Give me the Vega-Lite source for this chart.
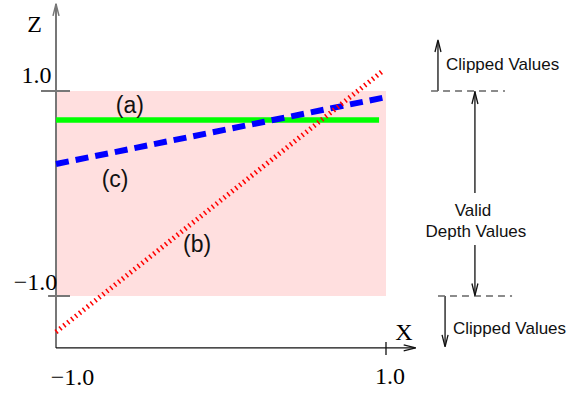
{
  "$schema": "https://vega.github.io/schema/vega-lite/v6.json",
  "width": 570,
  "height": 394,
  "padding": 0,
  "autosize": "none",
  "background": "white",
  "config": {"view": {"stroke": null}},
  "encoding": {
    "x": {"field": "x", "type": "quantitative", "axis": null, "scale": {"domain": [-1.3394, 2.1152], "nice": false, "zero": false}},
    "y": {"field": "z", "type": "quantitative", "axis": null, "scale": {"domain": [-1.9561, 1.8878], "nice": false, "zero": false}}
  },
  "layer": [
    {
      "data": {"values": [{"x": -1, "x2": 1, "z": -1, "z2": 1}]},
      "mark": {"type": "rect", "color": "#ffdfdf"},
      "encoding": {"x2": {"field": "x2"}, "y2": {"field": "z2"}}
    },
    {
      "data": {"values": [
        {"x": -1, "x2": -1, "z": -1.507, "z2": 1.85},
        {"x": -1.091, "x2": -0.915, "z": 1, "z2": 1},
        {"x": -1.048, "x2": -0.915, "z": -1, "z2": -1}
      ]},
      "mark": {"type": "rule", "color": "#777777", "strokeWidth": 2},
      "encoding": {"x2": {"field": "x2"}, "y2": {"field": "z2"}}
    },
    {
      "data": {"values": [
        {"x": -1, "x2": 1.18, "z": -1.507, "z2": -1.507},
        {"x": 1, "x2": 1, "z": -1.449, "z2": -1.576},
        {"x": 1.315, "x2": 1.315, "z": 1, "z2": 1.49},
        {"x": 1.539, "x2": 1.539, "z": 1.0, "z2": 0.005},
        {"x": 1.539, "x2": 1.539, "z": -0.502, "z2": -1},
        {"x": 1.358, "x2": 1.358, "z": -1, "z2": -1.49}
      ]},
      "mark": {"type": "rule", "color": "#111111", "strokeWidth": 1.3},
      "encoding": {"x2": {"field": "x2"}, "y2": {"field": "z2"}}
    },
    {
      "data": {"values": [
        {"x": 1.273, "x2": 1.721, "z": 1, "z2": 1},
        {"x": 1.315, "x2": 1.764, "z": -1, "z2": -1}
      ]},
      "mark": {"type": "rule", "color": "#666666", "strokeWidth": 1.3, "strokeDash": [7, 5]},
      "encoding": {"x2": {"field": "x2"}, "y2": {"field": "z2"}}
    },
    {
      "data": {"values": [{"x": -1, "z": 1.85, "dir": "up"}]},
      "mark": {"type": "point", "filled": false, "color": "#777777", "strokeWidth": 1.5, "opacity": 1, "size": 36},
      "encoding": {"shape": {"field": "dir", "type": "nominal", "legend": null, "scale": {"domain": ["up", "down", "right"], "range": ["M-1,4L0,0L1,4", "M-1,-4L0,0L1,-4", "M-4,-1L0,0L-4,1"]}}}
    },
    {
      "data": {"values": [
        {"x": 1.18, "z": -1.507, "dir": "right"},
        {"x": 1.315, "z": 1.4976, "dir": "up"},
        {"x": 1.539, "z": 0.99, "dir": "up"},
        {"x": 1.539, "z": -0.995, "dir": "down"},
        {"x": 1.358, "z": -1.497, "dir": "down"}
      ]},
      "mark": {"type": "point", "filled": false, "color": "#111111", "strokeWidth": 1.3, "opacity": 1, "size": 36},
      "encoding": {"shape": {"field": "dir", "type": "nominal", "legend": null, "scale": {"domain": ["up", "down", "right"], "range": ["M-1,4L0,0L1,4", "M-1,-4L0,0L1,-4", "M-4,-1L0,0L-4,1"]}}}
    },
    {
      "data": {"values": [{"x": -1, "z": 0.717, "line": "a"}, {"x": 0.958, "z": 0.717, "line": "a"}]},
      "mark": {"type": "line", "color": "#00ff00", "strokeWidth": 5.5, "strokeCap": "butt"},
      "encoding": {}
    },
    {
      "data": {"values": [{"x": -1, "z": 0.288, "line": "c"}, {"x": 1, "z": 0.94, "line": "c"}]},
      "mark": {"type": "line", "color": "#0000ff", "strokeWidth": 6, "strokeDash": [13, 7], "strokeCap": "butt"},
      "encoding": {}
    },
    {
      "data": {"values": [{"x": -1, "z": -1.351, "line": "b"}, {"x": 0.988, "z": 1.205, "line": "b"}]},
      "mark": {"type": "line", "color": "#ff0000", "strokeWidth": 5, "strokeDash": [1.5, 3.5], "strokeCap": "butt"},
      "encoding": {}
    },
    {
      "data": {"values": [
        {"x": -1.118, "z": 1.075, "label": "1.0"},
        {"x": -1.124, "z": -0.941, "label": "−1.0"},
        {"x": -0.9, "z": -1.868, "label": "−1.0"},
        {"x": 1.024, "z": -1.859, "label": "1.0"}
      ]},
      "mark": {"type": "text", "font": "Liberation Serif", "fontSize": 24, "align": "center", "baseline": "alphabetic", "color": "#000000"},
      "encoding": {"text": {"field": "label"}}
    },
    {
      "data": {"values": [
        {"x": -1.13, "z": 1.576, "label": "Z"},
        {"x": 1.109, "z": -1.429, "label": "X"}
      ]},
      "mark": {"type": "text", "font": "Liberation Serif", "fontSize": 24, "align": "center", "baseline": "alphabetic", "color": "#000000"},
      "encoding": {"text": {"field": "label"}}
    },
    {
      "data": {"values": [
        {"x": -0.552, "z": 0.785, "label": "(a)"},
        {"x": -0.145, "z": -0.571, "label": "(b)"},
        {"x": -0.642, "z": 0.063, "label": "(c)"}
      ]},
      "mark": {"type": "text", "font": "Liberation Sans", "fontSize": 23, "align": "center", "baseline": "alphabetic", "color": "#111111"},
      "encoding": {"text": {"field": "label"}}
    },
    {
      "data": {"values": [
        {"x": 1.364, "z": 1.205, "label": "Clipped Values"},
        {"x": 1.406, "z": -1.371, "label": "Clipped Values"}
      ]},
      "mark": {"type": "text", "font": "Liberation Sans", "fontSize": 17, "align": "left", "baseline": "alphabetic", "color": "#111111"},
      "encoding": {"text": {"field": "label"}}
    },
    {
      "data": {"values": [
        {"x": 1.527, "z": -0.2195, "label": "Valid"},
        {"x": 1.545, "z": -0.424, "label": "Depth Values"}
      ]},
      "mark": {"type": "text", "font": "Liberation Sans", "fontSize": 17, "align": "center", "baseline": "alphabetic", "color": "#111111"},
      "encoding": {"text": {"field": "label"}}
    }
  ]
}
